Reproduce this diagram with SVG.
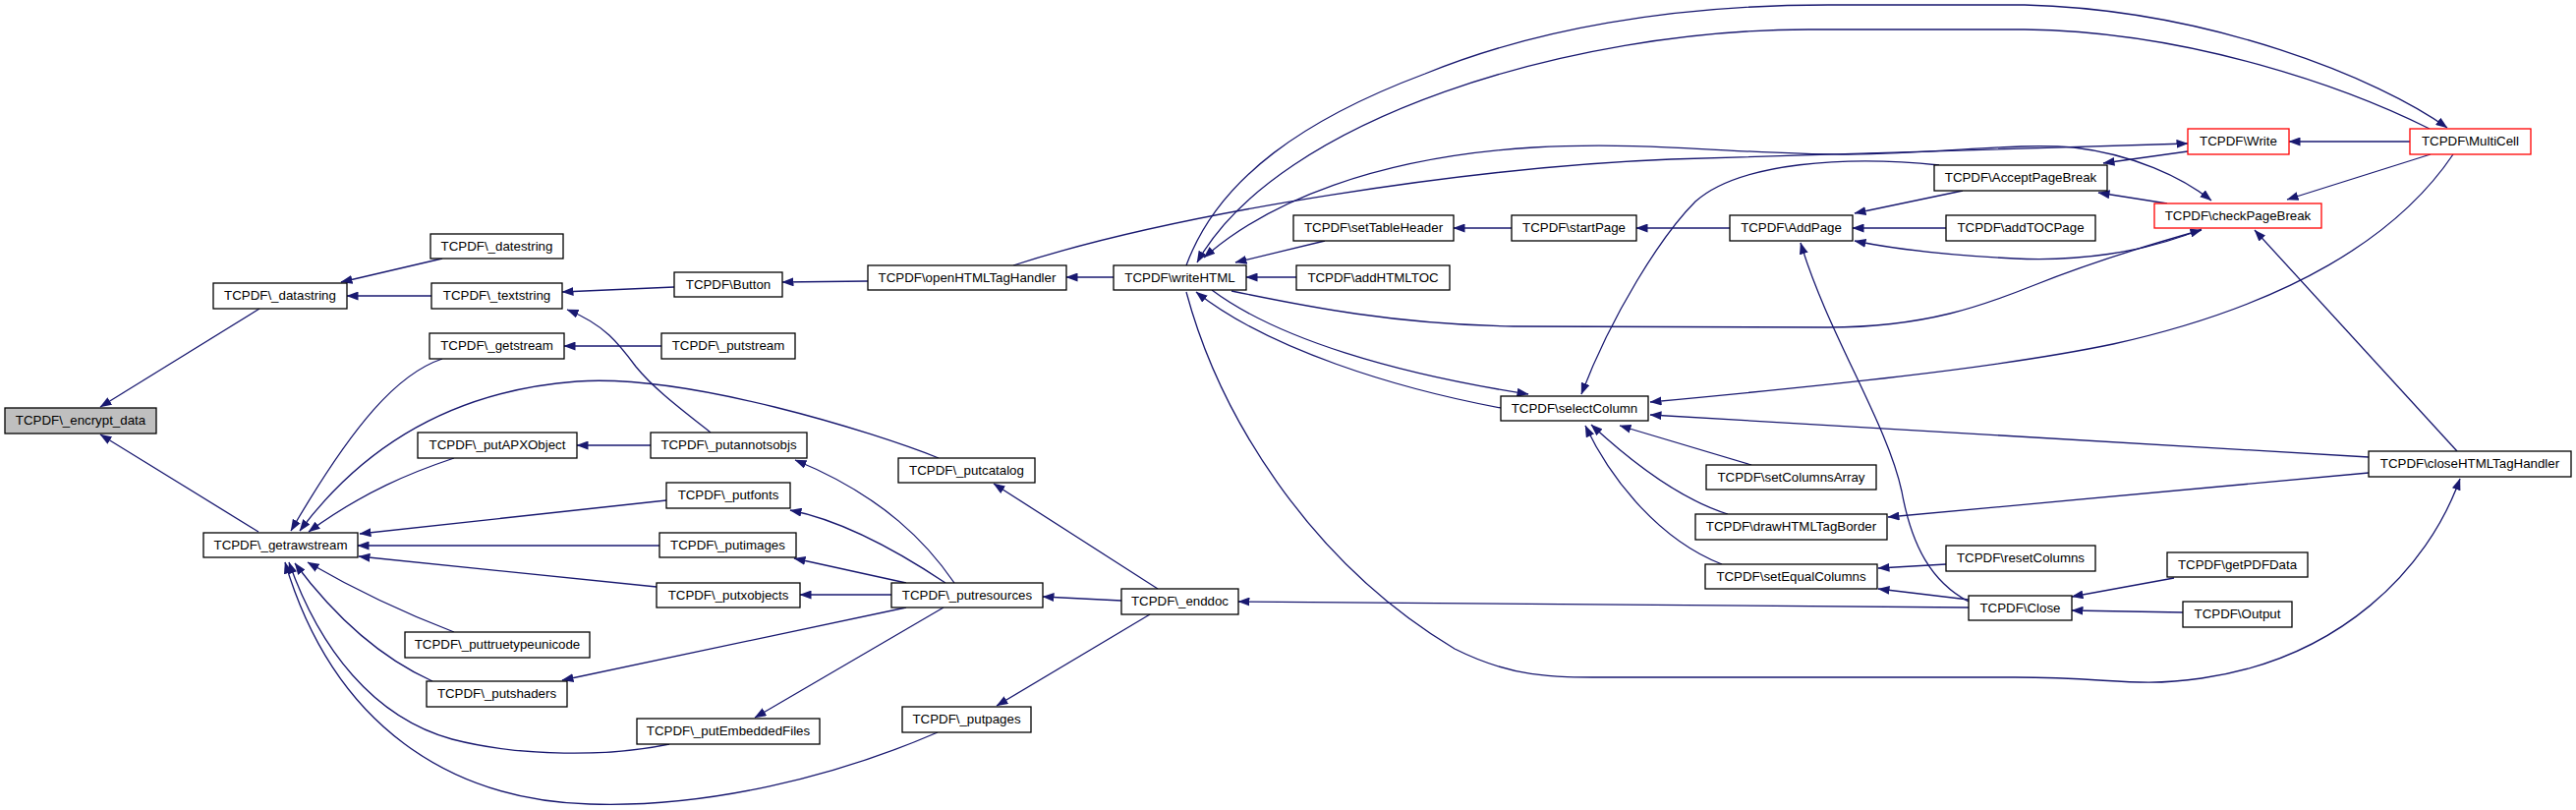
<svg xmlns="http://www.w3.org/2000/svg" width="2621" height="824" viewBox="0 0 2621 824">
<defs>
<marker id="ah" markerUnits="userSpaceOnUse" markerWidth="12" markerHeight="9" viewBox="0 0 12 9" refX="11.5" refY="4.5" orient="auto"><path d="M0,0 L12,4.5 L0,9 z" fill="#191970"/></marker>
<marker id="as" markerUnits="userSpaceOnUse" markerWidth="12" markerHeight="9" viewBox="0 0 12 9" refX="11.5" refY="4.5" orient="auto-start-reverse"><path d="M0,0 L12,4.5 L0,9 z" fill="#191970"/></marker>
<style>
.n rect{fill:#fff;stroke:#000;stroke-width:1.3}
.n.g rect{fill:#bfbfbf}
.n.r rect{stroke:#ff0000}
.n text{font-family:"Liberation Sans",Arial,Helvetica,sans-serif;font-size:13.3px;fill:#000;text-anchor:middle}
#edges path{fill:none;stroke:#191970;stroke-width:1.3;marker-end:url(#ah)}
</style>
</defs>
<rect width="2621" height="824" fill="#fff"/>
<g id="edges">
<path d="M264,314 L102,414"/>
<path d="M263,541 L102,442"/>
<path d="M450,263 L347,287"/>
<path d="M439,301 L353,301"/>
<path d="M686,292 L572,297"/>
<path d="M723,440 C690,414 665,395 647,373 C630,350 615,330 577,315"/>
<path d="M673,352 L574,352"/>
<path d="M450,365 C405,380 360,430 296,540"/>
<path d="M955,466 C890,440 700,380 587,388 C480,396 380,440 305,540"/>
<path d="M462,466 C420,480 370,500 314,541"/>
<path d="M678,509 L366,543"/>
<path d="M671,555 L364,555"/>
<path d="M668,597 L365,566"/>
<path d="M462,643 C420,627 370,605 313,572"/>
<path d="M440,693 C400,675 350,640 300,573"/>
<path d="M681,757 C620,770 530,770 460,752 C380,730 325,660 294,572"/>
<path d="M954,745 C850,790 720,822 600,818 C460,814 340,740 290,572"/>
<path d="M662,453 L587,453"/>
<path d="M971,593 C945,555 900,505 809,468"/>
<path d="M962,593 C920,565 860,530 804,519"/>
<path d="M922,593 L808,568"/>
<path d="M907,605 L814,605"/>
<path d="M922,618 L572,692"/>
<path d="M960,618 L768,730"/>
<path d="M1141,611 L1061,607"/>
<path d="M1178,599 L1011,492"/>
<path d="M1170,625 L1014,718"/>
<path d="M2003,618 C1700,616 1400,613 1260,612"/>
<path d="M883,286 L796,287"/>
<path d="M1133,282 L1085,282"/>
<path d="M1031,270 C1200,215 1500,170 1700,162 C1900,155 2100,150 2226,146"/>
<path d="M1207,270 C1240,180 1330,120 1450,75 C1560,30 1700,5 1860,5 L2060,5 C2250,10 2420,80 2490,130"/>
<path d="M2472,131 C2390,90 2230,32 2060,30 L1840,30 C1600,30 1300,120 1218,267"/>
<path d="M1225,262 C1290,205 1400,160 1560,150 C1680,143 1780,158 1880,157 C1980,156 2050,145 2110,150 C2170,157 2220,180 2250,204" style="marker-start:url(#as)"/>
<path d="M2452,144 L2329,144"/>
<path d="M2226,154 L2140,166"/>
<path d="M2473,157 L2327,203"/>
<path d="M2205,207 L2135,196"/>
<path d="M1997,194 L1887,217"/>
<path d="M1980,232 L1885,232"/>
<path d="M2240,233 C2180,258 2110,266 2050,263 C1990,260 1930,254 1887,245"/>
<path d="M1760,232 L1665,232"/>
<path d="M1538,232 L1479,232"/>
<path d="M1348,245 L1257,267"/>
<path d="M1319,282 L1268,282"/>
<path d="M1973,168 C1880,158 1770,165 1725,205 C1690,240 1640,320 1609,401"/>
<path d="M1233,295 C1300,345 1420,380 1555,401"/>
<path d="M1527,415 C1420,395 1290,355 1217,297"/>
<path d="M1253,296 C1330,312 1420,330 1540,332 L1860,333 C1960,333 2020,310 2070,290 C2130,266 2190,248 2240,234"/>
<path d="M2496,157 C2440,240 2330,310 2150,350 C2030,375 1850,393 1679,409"/>
<path d="M2500,459 L2294,234"/>
<path d="M2410,465 L1679,422"/>
<path d="M2410,481 L1921,526"/>
<path d="M1782,473 L1648,433"/>
<path d="M1758,523 C1710,508 1660,470 1619,432"/>
<path d="M1752,574 C1690,550 1640,490 1613,433"/>
<path d="M1980,574 L1911,578"/>
<path d="M2003,610 L1911,599"/>
<path d="M2212,588 L2108,607"/>
<path d="M2221,623 L2108,621"/>
<path d="M2003,612 C1965,592 1945,555 1935,500 C1920,430 1860,340 1832,247"/>
<path d="M1207,297 C1240,420 1330,570 1480,660 C1540,690 1580,689 1640,689 L2050,689 C2150,689 2170,700 2240,690 C2380,670 2470,580 2503,487"/>
</g>
<g id="n1" class="n g"><rect x="5" y="415" width="154" height="26"/><text x="82" y="432">TCPDF\_encrypt_data</text></g>
<g id="n2" class="n"><rect x="217" y="288" width="136" height="26"/><text x="285" y="305">TCPDF\_datastring</text></g>
<g id="n3" class="n"><rect x="207" y="542" width="157" height="25"/><text x="285.5" y="558.5">TCPDF\_getrawstream</text></g>
<g id="n4" class="n"><rect x="438" y="238" width="135" height="25"/><text x="505.5" y="254.5">TCPDF\_datestring</text></g>
<g id="n5" class="n"><rect x="439" y="288" width="133" height="26"/><text x="505.5" y="305">TCPDF\_textstring</text></g>
<g id="n6" class="n"><rect x="437" y="339" width="137" height="26"/><text x="505.5" y="356">TCPDF\_getstream</text></g>
<g id="n7" class="n"><rect x="425" y="440" width="162" height="26"/><text x="506" y="457">TCPDF\_putAPXObject</text></g>
<g id="n8" class="n"><rect x="678" y="491" width="126" height="26"/><text x="741" y="508">TCPDF\_putfonts</text></g>
<g id="n9" class="n"><rect x="671" y="542" width="139" height="25"/><text x="740.5" y="558.5">TCPDF\_putimages</text></g>
<g id="n10" class="n"><rect x="668" y="593" width="146" height="25"/><text x="741" y="609.5">TCPDF\_putxobjects</text></g>
<g id="n11" class="n"><rect x="412" y="643" width="188" height="26"/><text x="506" y="660">TCPDF\_puttruetypeunicode</text></g>
<g id="n12" class="n"><rect x="434" y="693" width="143" height="26"/><text x="505.5" y="710">TCPDF\_putshaders</text></g>
<g id="n13" class="n"><rect x="648" y="731" width="186" height="26"/><text x="741" y="748">TCPDF\_putEmbeddedFiles</text></g>
<g id="n14" class="n"><rect x="686" y="277" width="110" height="25"/><text x="741" y="293.5">TCPDF\Button</text></g>
<g id="n15" class="n"><rect x="673" y="339" width="136" height="26"/><text x="741" y="356">TCPDF\_putstream</text></g>
<g id="n16" class="n"><rect x="662" y="440" width="159" height="26"/><text x="741.5" y="457">TCPDF\_putannotsobjs</text></g>
<g id="n17" class="n"><rect x="914" y="466" width="139" height="25"/><text x="983.5" y="482.5">TCPDF\_putcatalog</text></g>
<g id="n18" class="n"><rect x="907" y="593" width="154" height="25"/><text x="984" y="609.5">TCPDF\_putresources</text></g>
<g id="n19" class="n"><rect x="918" y="719" width="131" height="26"/><text x="983.5" y="736">TCPDF\_putpages</text></g>
<g id="n20" class="n"><rect x="883" y="270" width="202" height="25"/><text x="984" y="286.5">TCPDF\openHTMLTagHandler</text></g>
<g id="n21" class="n"><rect x="1141" y="599" width="119" height="26"/><text x="1200.5" y="616">TCPDF\_enddoc</text></g>
<g id="n22" class="n"><rect x="1133" y="270" width="135" height="25"/><text x="1200.5" y="286.5">TCPDF\writeHTML</text></g>
<g id="n23" class="n"><rect x="1316" y="219" width="163" height="26"/><text x="1397.5" y="236">TCPDF\setTableHeader</text></g>
<g id="n24" class="n"><rect x="1319" y="270" width="156" height="25"/><text x="1397" y="286.5">TCPDF\addHTMLTOC</text></g>
<g id="n25" class="n"><rect x="1538" y="219" width="127" height="26"/><text x="1601.5" y="236">TCPDF\startPage</text></g>
<g id="n26" class="n"><rect x="1527" y="403" width="150" height="25"/><text x="1602" y="419.5">TCPDF\selectColumn</text></g>
<g id="n27" class="n"><rect x="1760" y="219" width="125" height="26"/><text x="1822.5" y="236">TCPDF\AddPage</text></g>
<g id="n28" class="n"><rect x="1968" y="168" width="176" height="26"/><text x="2056" y="185">TCPDF\AcceptPageBreak</text></g>
<g id="n29" class="n"><rect x="1980" y="219" width="152" height="26"/><text x="2056" y="236">TCPDF\addTOCPage</text></g>
<g id="n30" class="n"><rect x="1736" y="473" width="173" height="25"/><text x="1822.5" y="489.5">TCPDF\setColumnsArray</text></g>
<g id="n31" class="n"><rect x="1725" y="523" width="195" height="26"/><text x="1822.5" y="540">TCPDF\drawHTMLTagBorder</text></g>
<g id="n32" class="n"><rect x="1735" y="574" width="175" height="25"/><text x="1822.5" y="590.5">TCPDF\setEqualColumns</text></g>
<g id="n33" class="n"><rect x="1980" y="555" width="152" height="26"/><text x="2056" y="572">TCPDF\resetColumns</text></g>
<g id="n34" class="n"><rect x="2003" y="606" width="105" height="25"/><text x="2055.5" y="622.5">TCPDF\Close</text></g>
<g id="n35" class="n r"><rect x="2226" y="131" width="103" height="26"/><text x="2277.5" y="148">TCPDF\Write</text></g>
<g id="n36" class="n r"><rect x="2452" y="131" width="123" height="26"/><text x="2513.5" y="148">TCPDF\MultiCell</text></g>
<g id="n37" class="n r"><rect x="2192" y="207" width="170" height="25"/><text x="2277" y="223.5">TCPDF\checkPageBreak</text></g>
<g id="n38" class="n"><rect x="2205" y="562" width="143" height="25"/><text x="2276.5" y="578.5">TCPDF\getPDFData</text></g>
<g id="n39" class="n"><rect x="2221" y="612" width="111" height="26"/><text x="2276.5" y="629">TCPDF\Output</text></g>
<g id="n40" class="n"><rect x="2410" y="459" width="206" height="26"/><text x="2513" y="476">TCPDF\closeHTMLTagHandler</text></g>
</svg>
